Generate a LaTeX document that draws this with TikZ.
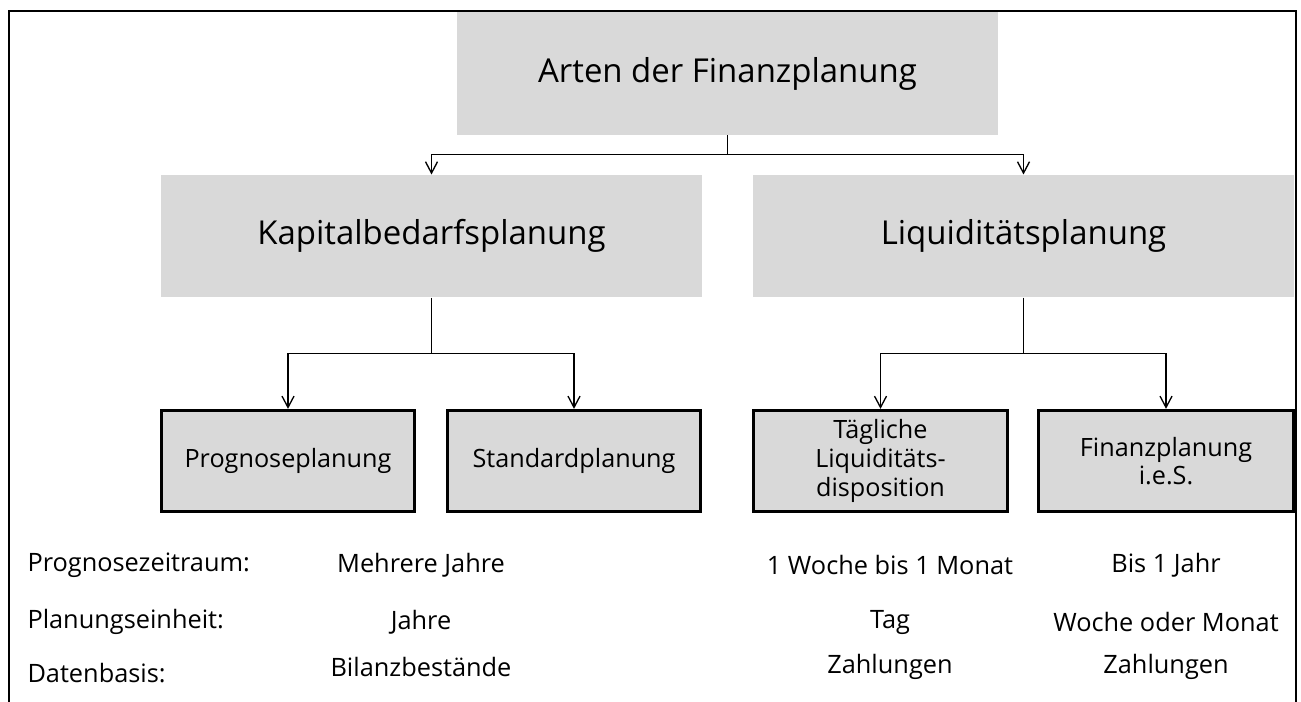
\documentclass[tikz,border=0pt]{standalone}
\usepackage{fontspec}
\setmainfont{Open Sans}
\usetikzlibrary{arrows.meta}

\definecolor{boxgray}{RGB}{217,217,217}

\tikzset{every picture/.style={line width=0.75pt}}
\tikzset{
  topbox/.style={fill=boxgray, draw=none, minimum width=405.75pt, minimum height=92pt, inner sep=0pt, font=\fontsize{24.7}{29}\selectfont},
  leafbox/.style={fill=boxgray, draw=black, line width=2.2pt, minimum width=190pt, minimum height=76pt, inner sep=0pt, align=center, font=\fontsize{18.9}{21.5}\selectfont},
  conn/.style={line width=1pt},
  arr/.style={conn, -{Straight Barb[length=8.5pt, width=9pt]}},
  rowlabel/.style={anchor=west, inner sep=0pt, font=\fontsize{19}{22}\selectfont},
  rowvalue/.style={inner sep=0pt, font=\fontsize{19}{22}\selectfont}
}

\begin{document}
\begin{tikzpicture}[x=0.75pt,y=0.75pt,yscale=-1,xscale=1]
\useasboundingbox (0,0) rectangle (1301,702);

%Frame (open at the bottom)
\draw [line width=1.6pt] (9,702) -- (9,11) -- (1296,11) -- (1296,702) ;

% Boxes
\node [topbox] (arten) at (727.5,73.5) {Arten der Finanzplanung};
\node [topbox, minimum height=91.5pt] (kapital) at (431.5,236) {Kapitalbedarfsplanung};
\node [topbox, minimum height=91.5pt] (liquid) at (1023.5,236) {Liquiditätsplanung};

\node [leafbox] (prognose) at (288,461) {Prognoseplanung};
\node [leafbox] (standard) at (574,461) {Standardplanung};
\node [leafbox] (taeglich) at (880.5,461) {Tägliche\\Liquiditäts-\\disposition};
\node [leafbox, minimum width=191.5pt] (finanz) at (1166,461) {Finanzplanung\\i.e.S.};

% Connectors
\draw [conn] (arten.south) -- ++(0,19) coordinate (split0) ;
\draw [arr] (split0) -| (kapital.north) ;
\draw [arr] (split0) -| (liquid.north) ;

\draw [conn] (kapital.south) -- ++(0,56) coordinate (split1) ;
\draw [arr] (split1) -| (prognose.north) ;
\draw [arr] (split1) -| (standard.north) ;

\draw [conn] (liquid.south) -- ++(0,56) coordinate (split2) ;
\draw [arr] (split2) -| (taeglich.north) ;
\draw [arr] (split2) -| (finanz.north) ;

% Table below
\node [rowlabel] (zeitraum) at (27,565) {Prognosezeitraum:};
\node [rowlabel] (einheit) at (27,622) {Planungseinheit:};
\node [rowlabel] (basis) at (27,673) {Datenbasis:};

\node [rowvalue] (kapzeit) at (421,565) {Mehrere Jahre};
\node [rowvalue] (kapeinh) at (421,622) {Jahre};
\node [rowvalue] (kapbasis) at (421,667) {Bilanzbestände};

\node [rowvalue] (taegzeit) at (890,565) {1 Woche bis 1 Monat};
\node [rowvalue] (taegeinh) at (890,622) {Tag};
\node [rowvalue] (taegbasis) at (890,667) {Zahlungen};

\node [rowvalue] (finzeit) at (1166,565) {Bis 1 Jahr};
\node [rowvalue] (fineinh) at (1166,622) {Woche oder Monat};
\node [rowvalue] (finbasis) at (1166,667) {Zahlungen};

\end{tikzpicture}
\end{document}
